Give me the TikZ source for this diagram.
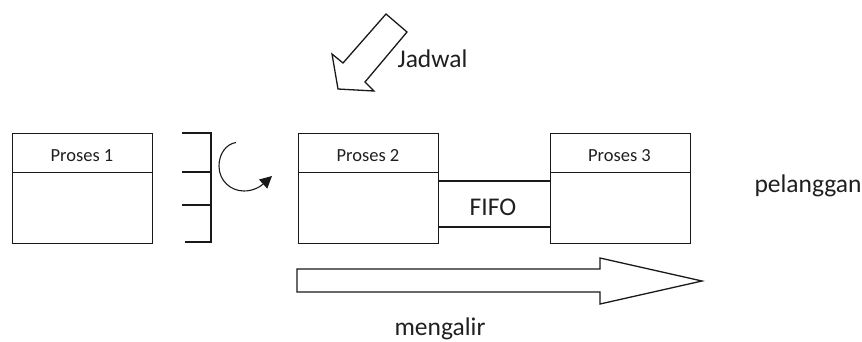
\documentclass[tikz,border=0pt]{standalone}
\usepackage{fontspec}
\setmainfont{Carlito}
\usetikzlibrary{arrows.meta}
\begin{document}
\begin{tikzpicture}[x=1pt,y=-1pt,
  line width=1.3pt, line join=miter,
  procbox/.style={draw=black!90, line width=1.3pt, minimum width=140pt,
    minimum height=110pt, inner sep=0pt, anchor=north west},
  lbl/.style={text=black!88, inner sep=0pt, anchor=base},
  small/.style={font=\fontsize{18.5}{20}\selectfont},
  big/.style={font=\fontsize{25.5}{28}\selectfont},
  outline/.style={draw=black!90, line width=1.3pt, fill=white}]
\useasboundingbox (0,0) rectangle (862,341);

% process boxes
\node[procbox] (p1) at (12,133) {};
\node[procbox] (p2) at (298,133) {};
\node[procbox] (p3) at (550,133) {};
\foreach \p in {p1,p2,p3}
  \draw[black!90] (\p.west |- 0,172.5) -- (\p.east |- 0,172.5);

\node[lbl,small] (t1) at (82,161) {Proses 1};
\node[lbl,small] (t2) at (368,161) {Proses 2};
\node[lbl,small] (t3) at (619.5,161) {Proses 3};

% supermarket
\coordinate (sa) at (182,133);
\coordinate (sb) at (211,133);
\coordinate (sc) at (211,242);
\coordinate (sd) at (185,242);
\draw[black!90] (sa) -- (sb) -- (sc) -- (sd);
\draw[black!90] (182,172) -- (211,172);
\draw[black!90] (182,205) -- (211,205);

% withdrawal loop
\coordinate (ca) at (236,142.5);
\coordinate (cb) at (219,166);
\coordinate (cc) at (244,191);
\coordinate (cd) at (272,176);
\draw[black!90, line width=1.1pt, -{Triangle[length=12pt,width=12pt]}]
  (ca) .. controls (226,144) and (219,154) .. (cb)
       .. controls (219,181) and (231,191) .. (cc)
       .. controls (254,191) and (261,186) .. (cd);

% FIFO lane
\draw[black!90] (p2.east |- 0,181) -- (p3.west |- 0,181);
\draw[black!90] (p2.east |- 0,227) -- (p3.west |- 0,227);
\node[lbl,big] (fifo) at (493,215) {FIFO};

% schedule arrow
\draw[outline] (386,14) -- (407,32) -- (365,82) -- (374,91) -- (338,89)
  -- (332,54) -- (343,63) -- cycle;
\node[lbl,big] (jadwal) at (432.5,67) {Jadwal};

% flow arrow
\draw[outline] (297,269) -- (600,269) -- (600,258) -- (702,281)
  -- (600,304) -- (600,292) -- (297,292) -- cycle;
\node[lbl,big] (flow) at (440,335) {mengalir};

\node[lbl,big] (cust) at (808,192) {pelanggan};
\end{tikzpicture}
\end{document}
